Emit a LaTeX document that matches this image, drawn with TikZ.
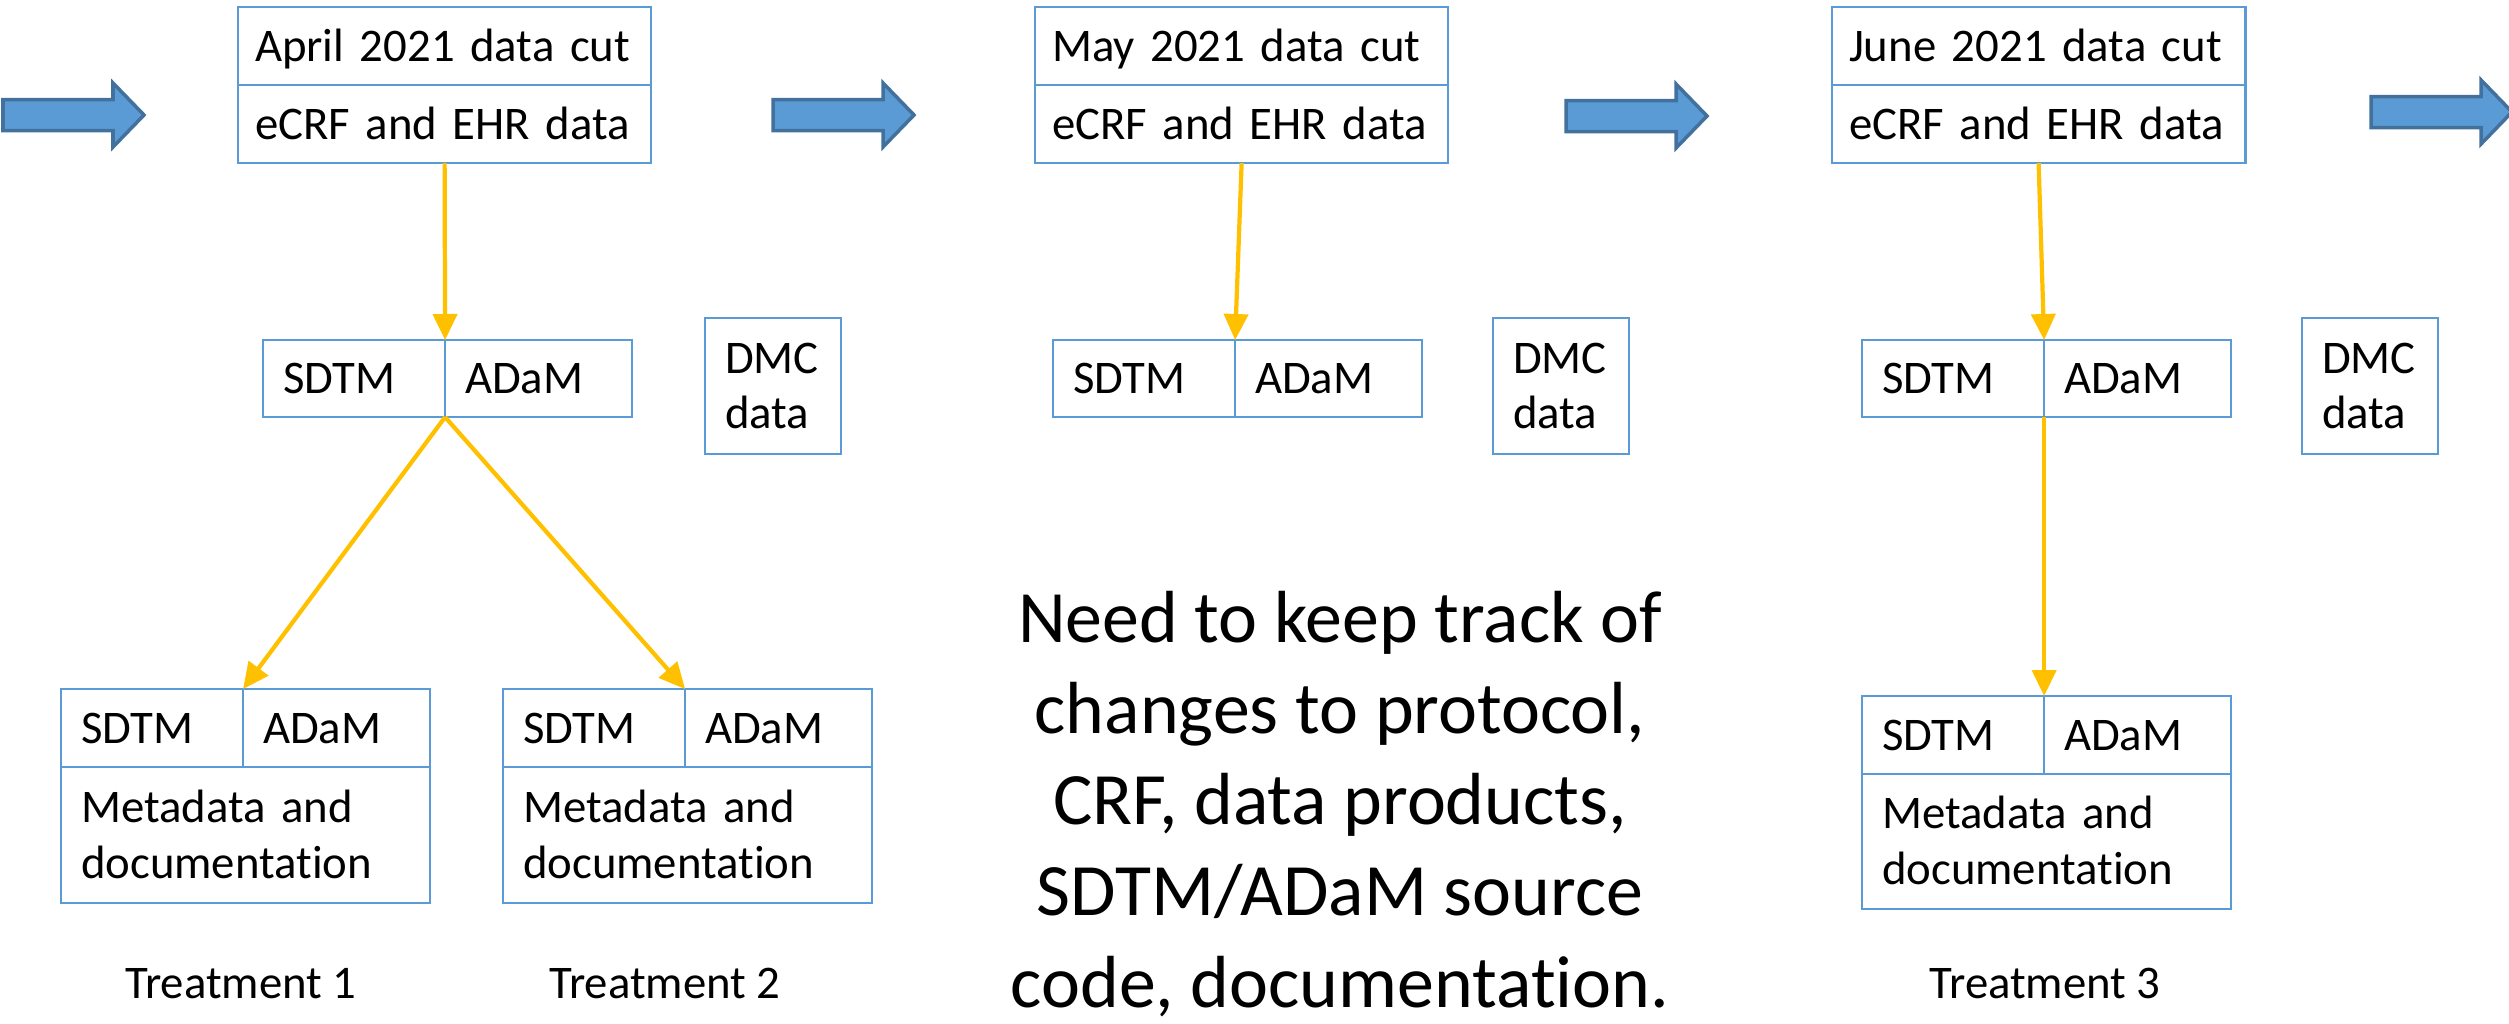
\documentclass[tikz,border=0pt]{standalone}
\usepackage{fontspec}
\setmainfont{Carlito}[Ligatures=CommonOff]
\usepackage{tikz}
\usetikzlibrary{arrows.meta, positioning}
\definecolor{boxBlue}{HTML}{5B9BD5}
\definecolor{arrowEdge}{HTML}{41719C}
\definecolor{flowGold}{HTML}{FFC000}

\begin{document}
\begin{tikzpicture}[x=0.01cm, y=-0.01cm,
    cell/.style={draw=boxBlue, line width=0.7pt, anchor=north west, outer sep=0pt,
        inner xsep=0.2cm, inner ysep=0pt, align=left, text height=0.3cm, text depth=0pt,
        font=\fontsize{13.3pt}{15.9pt}\selectfont},
    cutcell/.style={cell, inner xsep=0.17cm, text width=3.79cm, minimum height=0.78cm},
    sdtmcell/.style={cell, text width=1.42cm, minimum height=0.77cm},
    adamcell/.style={cell, text width=1.47cm, minimum height=0.77cm},
    metacell/.style={cell, text width=3.29cm, text depth=0.56cm, minimum height=1.36cm},
    dmccell/.style={cell, text width=0.96cm, text depth=0.56cm, minimum height=1.36cm},
    flow/.style={draw=flowGold, line width=1.2pt, -{Triangle[length=0.26cm, width=0.24cm]}},
    bigarrow/.style={fill=boxBlue, draw=arrowEdge, line width=1pt},
    caption/.style={anchor=base, inner sep=0pt, font=\fontsize{13.3pt}{15.9pt}\selectfont}]
    \useasboundingbox (0,0) rectangle (2509,1023);

    % Timeline arrows
    \foreach \ax/\ay in {3/115, 773/115, 1566/116, 2371/112}
        \filldraw[bigarrow] (\ax,\ay-15.5) -- ++(110,0) -- ++(0,-16.5) -- (\ax+141,\ay)
            -- (\ax+110,\ay+32) -- ++(0,-16.5) -- (\ax,\ay+15.5) -- cycle;

    % April
    \node[cutcell] (cutApr) at (238,7) {April 2021 data cut};
    \node[cutcell, below=0pt of cutApr] (ehrApr) {eCRF and EHR data};
    \node[sdtmcell] (sdtmApr) at (263,340) {SDTM};
    \node[adamcell, right=0pt of sdtmApr] (adamApr) {ADaM};
    \node[dmccell] (dmcApr) at (705,318) {DMC\\data};

    % May
    \node[cutcell] (cutMay) at (1035,7) {May 2021 data cut};
    \node[cutcell, below=0pt of cutMay] (ehrMay) {eCRF and EHR data};
    \node[sdtmcell] (sdtmMay) at (1053,340) {SDTM};
    \node[adamcell, right=0pt of sdtmMay] (adamMay) {ADaM};
    \node[dmccell] (dmcMay) at (1493,318) {DMC\\data};

    % June
    \node[cutcell] (cutJun) at (1832,7) {June 2021 data cut};
    \node[cutcell, below=0pt of cutJun] (ehrJun) {eCRF and EHR data};
    \node[sdtmcell] (sdtmJun) at (1862,340) {SDTM};
    \node[adamcell, right=0pt of sdtmJun] (adamJun) {ADaM};
    \node[dmccell] (dmcJun) at (2302,318) {DMC\\data};

    % Treatments
    \node[sdtmcell, minimum height=0.78cm] (sdtmT1) at (61,689) {SDTM};
    \node[adamcell, minimum height=0.78cm, right=0pt of sdtmT1] (adamT1) {ADaM};
    \node[metacell] (metaT1) at (sdtmT1.south west) {Metadata and\\documentation};
    \node[sdtmcell, minimum height=0.78cm] (sdtmT2) at (503,689) {SDTM};
    \node[adamcell, minimum height=0.78cm, right=0pt of sdtmT2] (adamT2) {ADaM};
    \node[metacell] (metaT2) at (sdtmT2.south west) {Metadata and\\documentation};
    \node[sdtmcell, minimum height=0.78cm] (sdtmT3) at (1862,696) {SDTM};
    \node[adamcell, minimum height=0.78cm, right=0pt of sdtmT3] (adamT3) {ADaM};
    \node[metacell, minimum height=1.35cm] (metaT3) at (sdtmT3.south west) {Metadata and\\documentation};

    \node[caption] (capT1) at (241,998) {Treatment 1};
    \node[caption] (capT2) at (665,998) {Treatment 2};
    \node[caption] (capT3) at (2045,998) {Treatment 3};

    % Flows
    \draw[flow] (ehrApr.south) -- (sdtmApr.north east);
    \draw[flow] (ehrMay.south) -- (sdtmMay.north east);
    \draw[flow] (ehrJun.south) -- (sdtmJun.north east);
    \draw[flow] (sdtmApr.south east) -- (sdtmT1.north east);
    \draw[flow] (sdtmApr.south east) -- (sdtmT2.north east);
    \draw[flow] (sdtmJun.south east) -- (sdtmT3.north east);

    \node[align=center, anchor=base, inner sep=0pt,
        font=\fontsize{21pt}{25.9pt}\selectfont] (note) at (1340,1007)
        {Need to keep track of\\changes to protocol,\\CRF, data products,\\SDTM/ADaM source\\code, documentation.};
\end{tikzpicture}
\end{document}
